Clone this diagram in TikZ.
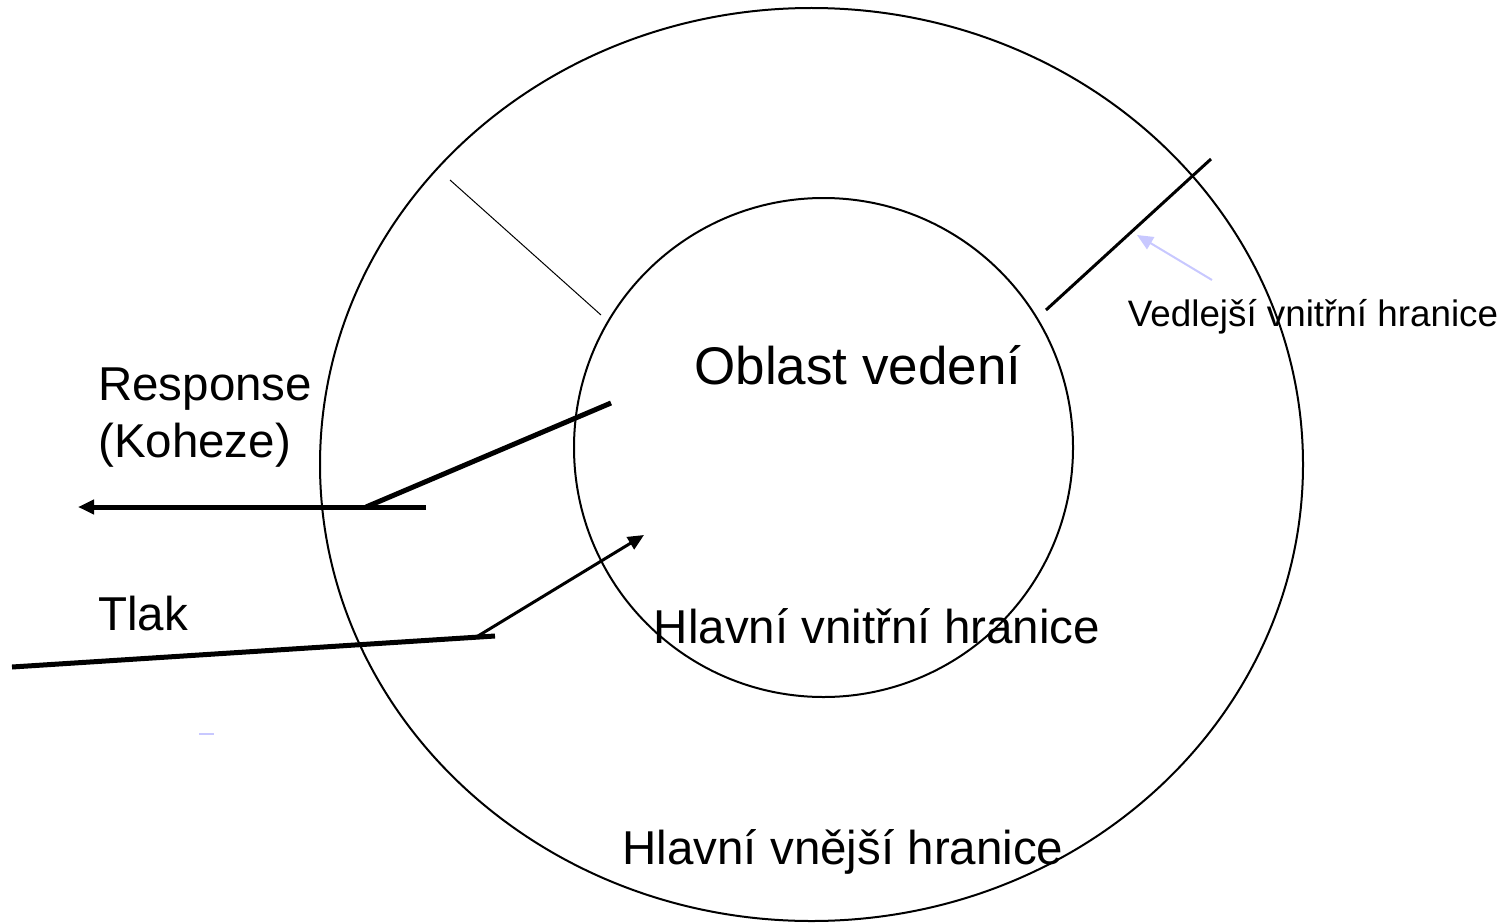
\documentclass[tikz,border=0pt]{standalone}
\usepackage{fontspec}
\setmainfont{Liberation Sans}
\usetikzlibrary{arrows.meta}
\begin{document}
\begin{tikzpicture}[x=1pt,y=-1pt,
  ring/.style={draw=black,line width=2pt},
  thinline/.style={draw=black,line width=1pt},
  midline/.style={draw=black,line width=3pt},
  thickline/.style={draw=black,line width=5pt},
  lbl/.style={inner sep=0pt,font=\fontsize{47.5}{50}\selectfont},
  bigtxt/.style={inner sep=0pt,font=\fontsize{53}{56}\selectfont},
  smalltxt/.style={inner sep=0pt,font=\fontsize{36.8}{40}\selectfont},
  tip/.style={-{Triangle[length=16pt,width=14pt]}},
  bluearrow/.style={draw={rgb,255:red,200;green,200;blue,255},line width=2pt,-{Triangle[length=16pt,width=14pt]}}]
\useasboundingbox (0,0) rectangle (1506,923);
% rings
\draw[ring] (811.5,464.5) ellipse [x radius=491.5, y radius=456.5];
\draw[ring] (823.5,447.5) ellipse [x radius=249.5, y radius=249.5];
% coordinates
\coordinate (tlA) at (450,180);
\coordinate (tlB) at (601,315);
\coordinate (trA) at (1046,310);
\coordinate (trB) at (1211,159);
\coordinate (baS) at (1212,280);
\coordinate (baE) at (1137,235);
\coordinate (rA) at (611,403);
\coordinate (rB) at (366,507);
\coordinate (rC) at (426,507);
\coordinate (rD) at (78,507);
\coordinate (tA) at (12,667);
\coordinate (tB) at (495,636);
\coordinate (tC) at (478,636);
\coordinate (tD) at (644,535);
\coordinate (dA) at (199,734);
\coordinate (dB) at (214,734);
% lines
\draw[thinline] (tlA) -- (tlB);
\draw[midline] (trA) -- (trB);
\draw[bluearrow] (baS) -- (baE);
\draw[thickline] (rA) -- (rB);
\draw[thickline,tip] (rC) -- (rD);
\draw[thickline] (tA) -- (tB);
\draw[midline,tip] (tC) -- (tD);
\draw[draw={rgb,255:red,200;green,200;blue,255},line width=2pt] (dA) -- (dB);
% texts
\node[bigtxt,anchor=base] (oblast) at (858,384) {Oblast vedení};
\node[lbl,anchor=base west] (resp) at (98,400) {Response};
\node[lbl,anchor=base west] (koh) at (98,457) {(Koheze)};
\node[lbl,anchor=base west] (tlak) at (98,630) {Tlak};
\node[lbl,anchor=base] (hvnit) at (877,643) {Hlavní vnitřní hranice};
\node[lbl,anchor=base] (hvnej) at (843,864) {Hlavní vnější hranice};
\node[smalltxt,anchor=base] (vedl) at (1313,326) {Vedlejší vnitřní hranice};
\end{tikzpicture}
\end{document}
